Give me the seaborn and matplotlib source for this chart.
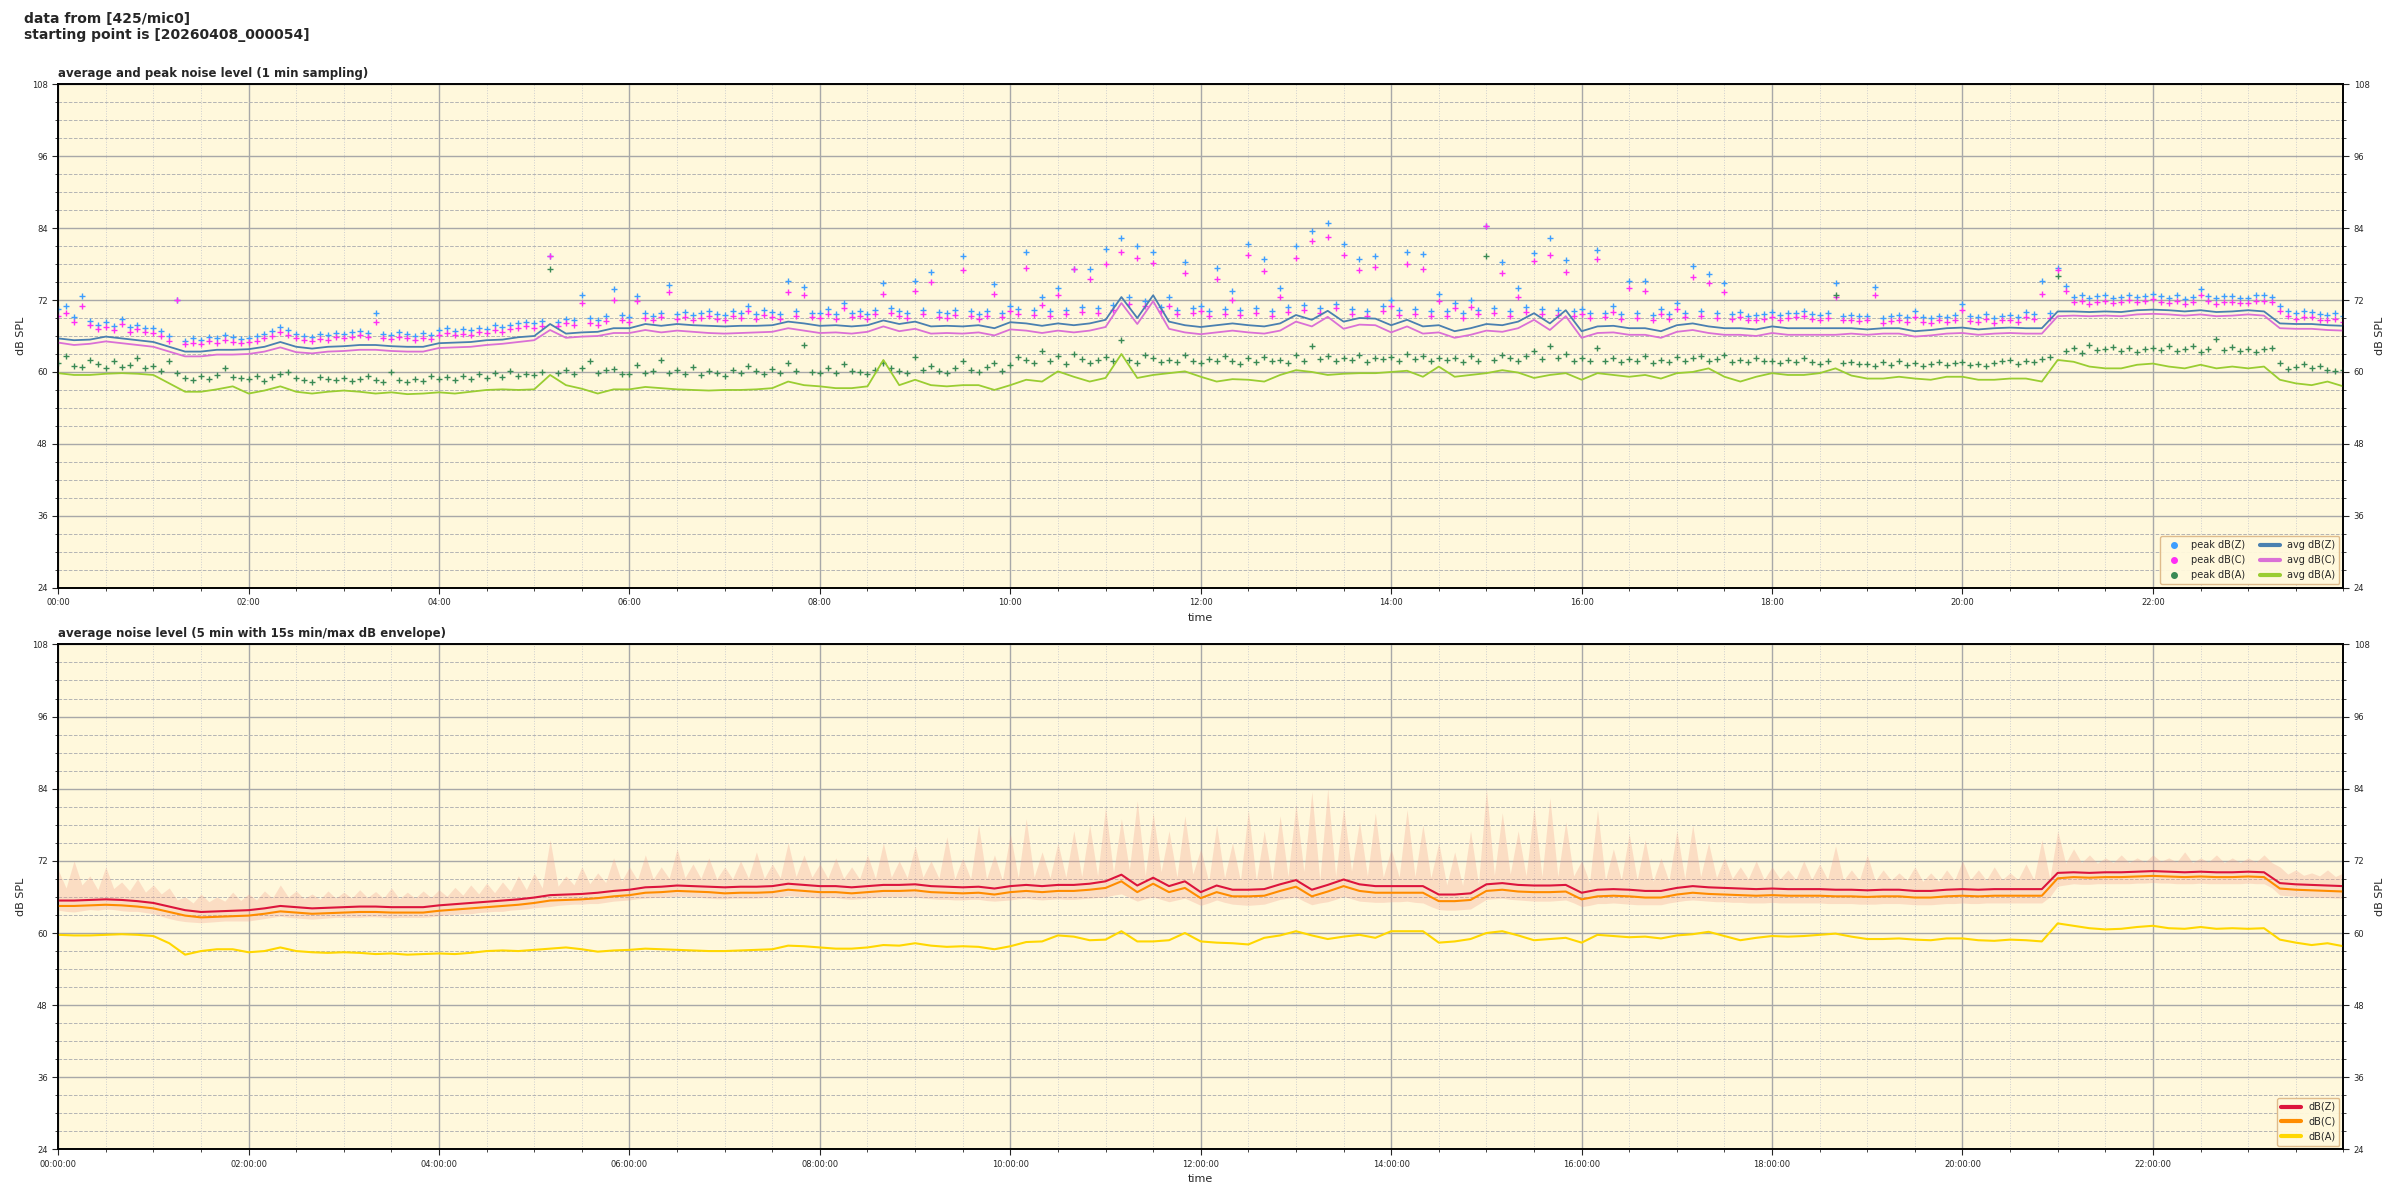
import numpy as np
import pandas as pd
import matplotlib
matplotlib.use("Agg")
import matplotlib.pyplot as plt
from matplotlib.ticker import MultipleLocator, FuncFormatter, FixedLocator
from matplotlib.lines import Line2D
import seaborn as sns

# ---------------- data ----------------
# top panel: 1-min sampled averages, transcribed every 10 min (00:00 .. 24:00)
avg_z = [
    65.6, 65.3, 65.4, 65.9, 65.6, 65.3,
    65.0, 64.2, 63.4, 63.4, 63.7, 63.7,
    63.8, 64.2, 65.0, 64.2, 63.9, 64.2,
    64.3, 64.5, 64.5, 64.3, 64.2, 64.2,
    64.8, 64.9, 65.0, 65.3, 65.4, 65.8,
    66.0, 68.0, 66.4, 66.6, 66.7, 67.3,
    67.3, 68.0, 67.7, 68.0, 67.8, 67.7,
    67.6, 67.7, 67.7, 67.8, 68.4, 68.1,
    67.7, 67.8, 67.6, 67.8, 68.6, 68.0,
    68.4, 67.6, 67.7, 67.6, 67.8, 67.3,
    68.3, 68.1, 67.7, 68.1, 67.8, 68.1,
    68.7, 72.5, 69.0, 72.8, 68.4, 67.8,
    67.5, 67.8, 68.1, 67.8, 67.6, 68.1,
    69.5, 68.7, 70.2, 68.4, 69.0, 68.9,
    67.8, 68.7, 67.6, 67.8, 66.8, 67.3,
    68.0, 67.8, 68.4, 69.8, 68.1, 70.3,
    66.8, 67.6, 67.7, 67.3, 67.3, 66.8,
    67.8, 68.1, 67.6, 67.3, 67.3, 67.1,
    67.6, 67.3, 67.3, 67.3, 67.3, 67.3,
    67.1, 67.3, 67.3, 66.8, 67.0, 67.3,
    67.4, 67.1, 67.3, 67.4, 67.3, 67.3,
    70.1, 70.1, 70.0, 70.1, 70.0, 70.3,
    70.4, 70.3, 70.1, 70.3, 70.0, 70.1,
    70.3, 70.1, 68.1, 68.0, 68.0, 67.8,
    67.7,
]
avg_c = [
    64.9, 64.5, 64.7, 65.1, 64.8, 64.5,
    64.2, 63.4, 62.6, 62.6, 62.9, 62.9,
    63.0, 63.4, 64.1, 63.3, 63.1, 63.4,
    63.5, 63.7, 63.7, 63.5, 63.4, 63.4,
    64.0, 64.1, 64.2, 64.5, 64.7, 65.0,
    65.3, 67.0, 65.7, 65.9, 66.0, 66.5,
    66.5, 67.0, 66.6, 66.9, 66.7, 66.5,
    66.4, 66.5, 66.6, 66.7, 67.3, 66.9,
    66.5, 66.6, 66.4, 66.7, 67.6, 66.8,
    67.2, 66.4, 66.5, 66.4, 66.6, 66.1,
    67.1, 66.9, 66.5, 66.9, 66.6, 66.9,
    67.5, 71.5, 68.0, 71.8, 67.2, 66.6,
    66.3, 66.6, 66.9, 66.6, 66.4, 66.9,
    68.4, 67.6, 69.2, 67.2, 67.9, 67.8,
    66.6, 67.6, 66.4, 66.6, 65.7, 66.2,
    66.9, 66.7, 67.3, 68.7, 67.0, 69.3,
    65.7, 66.5, 66.6, 66.2, 66.2, 65.7,
    66.7, 67.0, 66.5, 66.2, 66.2, 66.0,
    66.5, 66.2, 66.2, 66.2, 66.2, 66.4,
    66.2, 66.4, 66.4, 65.9, 66.1, 66.4,
    66.5, 66.2, 66.4, 66.5, 66.4, 66.4,
    69.3, 69.4, 69.3, 69.4, 69.3, 69.6,
    69.7, 69.6, 69.4, 69.6, 69.3, 69.4,
    69.6, 69.4, 67.3, 67.2, 67.2, 67.0,
    66.9,
]
avg_a = [
    59.8, 59.5, 59.5, 59.7, 59.8, 59.7,
    59.5, 58.1, 56.7, 56.7, 57.1, 57.6,
    56.4, 56.9, 57.6, 56.7, 56.4, 56.7,
    56.9, 56.7, 56.4, 56.6, 56.3, 56.4,
    56.6, 56.4, 56.7, 57.0, 57.1, 57.0,
    57.1, 59.5, 57.8, 57.2, 56.4, 57.1,
    57.1, 57.5, 57.3, 57.1, 57.0, 56.9,
    57.0, 57.0, 57.1, 57.3, 58.4, 57.8,
    57.6, 57.3, 57.3, 57.6, 62.0, 57.8,
    58.7, 57.8, 57.6, 57.8, 57.8, 57.0,
    57.8, 58.7, 58.4, 60.1, 59.2, 58.4,
    59.0, 63.0, 59.0, 59.5, 59.8, 60.1,
    59.2, 58.4, 58.8, 58.7, 58.4, 59.5,
    60.3, 60.0, 59.5, 59.7, 59.8, 59.8,
    60.0, 60.2, 59.2, 60.9, 59.2, 59.5,
    59.8, 60.3, 59.9, 59.0, 59.5, 59.8,
    58.7, 59.8, 59.5, 59.2, 59.5, 58.9,
    59.8, 60.0, 60.6, 59.2, 58.4, 59.2,
    59.8, 59.5, 59.5, 59.8, 60.6, 59.4,
    58.9, 58.9, 59.2, 58.9, 58.7, 59.2,
    59.2, 58.7, 58.7, 58.9, 58.9, 58.4,
    62.0, 61.7, 60.9, 60.6, 60.6, 61.2,
    61.4, 60.9, 60.6, 61.2, 60.6, 60.9,
    60.6, 60.9, 58.7, 58.1, 57.8, 58.4,
    57.6,
]

# top panel: peak values, transcribed every 5 min (00:00 .. 24:00)
peak_z = [
    70.5, 71.0, 69.2, 72.6, 68.5, 67.8, 68.4, 67.6, 68.9, 67.5, 67.9, 67.3,
    67.4, 66.8, 66.0, 72.0, 65.2, 65.6, 65.4, 65.9, 65.6, 66.1, 65.8, 65.5,
    65.7, 66.0, 66.4, 66.8, 67.5, 67.0, 66.4, 66.0, 65.9, 66.3, 66.1, 66.5,
    66.3, 66.6, 66.9, 66.5, 69.8, 66.4, 66.2, 66.7, 66.3, 66.0, 66.5, 66.2,
    67.0, 67.3, 66.8, 67.1, 67.0, 67.4, 67.2, 67.8, 67.5, 67.9, 68.1, 68.4,
    68.2, 68.5, 79.3, 68.3, 68.9, 68.6, 72.9, 69.0, 68.7, 69.3, 73.8, 69.5,
    69.2, 72.7, 69.8, 69.4, 69.9, 74.5, 69.6, 70.0, 69.5, 69.8, 70.2, 69.6,
    69.5, 70.1, 69.8, 71.0, 69.7, 70.3, 70.0, 69.6, 75.1, 70.2, 74.2, 69.9,
    69.8, 70.5, 69.6, 71.5, 69.9, 70.2, 69.7, 70.4, 74.8, 70.6, 70.1, 69.8,
    75.2, 70.4, 76.7, 70.0, 69.8, 70.3, 79.3, 70.1, 69.7, 70.2, 74.6, 69.9,
    71.0, 70.5, 80.0, 70.3, 72.5, 70.1, 74.0, 70.4, 77.1, 70.8, 77.1, 70.6,
    80.5, 71.2, 82.3, 72.5, 81.0, 71.8, 80.0, 70.9, 72.5, 70.4, 78.4, 70.6,
    71.0, 70.2, 77.3, 70.5, 73.5, 70.3, 81.4, 70.6, 78.9, 70.1, 74.0, 70.8,
    81.0, 71.2, 83.5, 70.6, 84.9, 71.4, 81.3, 70.5, 78.9, 70.2, 79.3, 71.0,
    72.0, 70.3, 80.0, 70.5, 79.7, 70.1, 73.0, 70.2, 71.5, 69.8, 72.0, 70.4,
    84.4, 70.6, 78.3, 70.2, 74.0, 70.8, 79.8, 70.5, 82.4, 70.3, 78.7, 70.1,
    70.5, 69.8, 80.4, 69.9, 71.0, 69.6, 75.2, 69.8, 75.2, 69.5, 70.5, 69.7,
    71.5, 69.9, 77.6, 70.2, 76.3, 69.8, 74.9, 69.6, 70.0, 69.4, 69.5, 69.7,
    70.0, 69.5, 69.8, 69.9, 70.2, 69.6, 69.5, 69.8, 74.9, 69.4, 69.5, 69.3,
    69.4, 74.1, 69.0, 69.3, 69.5, 69.1, 70.1, 69.2, 69.0, 69.4, 69.2, 69.5,
    71.3, 69.3, 69.2, 69.6, 69.0, 69.4, 69.5, 69.2, 70.0, 69.6, 75.1, 69.8,
    77.4, 74.3, 72.5, 72.8, 72.3, 72.6, 72.8, 72.4, 72.5, 72.9, 72.5, 72.7,
    73.0, 72.6, 72.4, 72.8, 72.2, 72.5, 73.9, 72.7, 72.3, 72.6, 72.6, 72.4,
    72.4, 72.8, 72.8, 72.5, 71.0, 70.2, 69.8, 70.1, 70.0, 69.6, 69.5, 69.8,
    69.3,
]
peak_c = [
    69.3, 69.8, 68.4, 71.0, 67.8, 67.1, 67.5, 67.0, 68.0, 66.7, 67.1, 66.6,
    66.5, 66.0, 65.2, 72.0, 64.6, 64.9, 64.7, 65.1, 64.9, 65.3, 65.0, 64.8,
    65.0, 65.2, 65.6, 66.0, 66.6, 66.1, 65.7, 65.3, 65.2, 65.5, 65.4, 65.8,
    65.6, 65.8, 66.1, 65.8, 68.3, 65.6, 65.5, 65.9, 65.6, 65.3, 65.7, 65.5,
    66.2, 66.5, 66.1, 66.4, 66.2, 66.6, 66.5, 67.0, 66.7, 67.1, 67.3, 67.6,
    67.4, 67.7, 79.3, 67.6, 68.1, 67.8, 71.5, 68.2, 67.9, 68.5, 72.0, 68.7,
    68.4, 71.8, 69.0, 68.6, 69.1, 73.4, 68.8, 69.2, 68.7, 69.0, 69.4, 68.8,
    68.7, 69.3, 69.0, 70.2, 68.9, 69.5, 69.2, 68.8, 73.3, 69.4, 72.8, 69.1,
    69.0, 69.7, 68.8, 70.6, 69.1, 69.4, 68.9, 69.6, 73.0, 69.8, 69.3, 69.0,
    73.5, 69.6, 75.0, 69.2, 69.0, 69.5, 77.0, 69.3, 68.9, 69.4, 73.0, 69.1,
    70.1, 69.7, 77.3, 69.5, 71.2, 69.3, 72.8, 69.6, 77.1, 70.0, 75.5, 69.8,
    78.0, 70.4, 80.0, 71.3, 79.0, 71.0, 78.2, 70.1, 71.0, 69.6, 76.5, 69.8,
    70.2, 69.4, 75.5, 69.7, 72.0, 69.5, 79.5, 69.8, 76.8, 69.3, 72.5, 70.0,
    79.0, 70.4, 81.8, 69.8, 82.5, 70.6, 79.5, 69.7, 77.0, 69.4, 77.5, 70.2,
    71.0, 69.5, 78.0, 69.7, 77.2, 69.3, 71.8, 69.4, 70.6, 69.0, 70.9, 69.6,
    84.4, 69.8, 76.5, 69.4, 72.5, 70.0, 78.5, 69.7, 79.5, 69.5, 76.6, 69.3,
    69.7, 69.0, 78.8, 69.1, 70.0, 68.8, 74.0, 69.0, 73.5, 68.7, 69.6, 68.9,
    70.5, 69.1, 75.8, 69.4, 74.8, 69.0, 73.3, 68.8, 69.2, 68.6, 68.7, 68.9,
    69.2, 68.7, 69.0, 69.1, 69.4, 68.8, 68.7, 69.0, 72.5, 68.6, 68.7, 68.5,
    68.6, 72.9, 68.2, 68.5, 68.7, 68.3, 69.2, 68.4, 68.2, 68.6, 68.4, 68.7,
    70.3, 68.5, 68.4, 68.8, 68.2, 68.6, 68.7, 68.4, 69.2, 68.8, 73.0, 69.0,
    77.0, 73.5, 71.6, 71.9, 71.4, 71.7, 71.9, 71.5, 71.6, 72.0, 71.6, 71.8,
    72.1, 71.7, 71.5, 71.9, 71.3, 71.6, 72.8, 71.8, 71.4, 71.7, 71.7, 71.5,
    71.5, 71.9, 71.9, 71.6, 70.1, 69.3, 68.9, 69.2, 69.1, 68.7, 68.6, 68.9,
    68.4,
]
peak_a = [
    61.5, 62.6, 61.0, 60.8, 62.0, 61.3, 60.6, 61.8, 60.9, 61.2, 62.3, 60.7,
    61.0, 60.2, 61.9, 59.8, 59.0, 58.6, 59.3, 58.8, 59.5, 60.6, 59.2, 59.0,
    58.8, 59.4, 58.5, 59.1, 59.6, 60.0, 59.0, 58.7, 58.4, 59.2, 58.9, 58.6,
    59.0, 58.5, 58.8, 59.3, 58.6, 58.4, 60.0, 58.7, 58.3, 58.9, 58.5, 59.4,
    58.8, 59.1, 58.6, 59.3, 58.9, 59.6, 59.0, 59.8, 59.2, 60.1, 59.4, 59.7,
    59.5, 60.0, 77.1, 59.8, 60.4, 59.6, 60.7, 61.8, 59.9, 60.3, 60.5, 59.7,
    59.6, 61.2, 59.8, 60.2, 62.0, 59.9, 60.4, 59.7, 60.8, 59.5, 60.1, 59.8,
    59.4, 60.3, 59.9, 61.0, 60.1, 59.7, 60.5, 59.8, 61.5, 60.2, 64.5, 60.0,
    59.8, 60.6, 59.9, 61.3, 60.2, 60.0, 59.7, 60.4, 61.5, 60.6, 60.1, 59.9,
    62.5, 60.4, 61.0, 60.2, 59.9, 60.6, 61.8, 60.3, 60.0, 60.8, 61.5, 60.1,
    61.2, 62.5, 62.0, 61.5, 63.5, 61.8, 62.6, 61.4, 63.0, 62.2, 61.5, 62.0,
    62.5, 61.8, 65.4, 62.0, 61.5, 62.8, 62.3, 61.7, 62.0, 61.6, 62.9, 61.8,
    61.5, 62.2, 61.8, 62.7, 61.9, 61.4, 62.3, 61.6, 62.5, 61.8, 62.0, 61.5,
    62.8, 61.9, 64.4, 62.2, 62.6, 61.8, 62.4, 62.0, 62.9, 61.7, 62.3, 62.1,
    62.5, 61.9, 63.0, 62.1, 62.6, 61.8, 62.4, 62.0, 62.3, 61.7, 62.6, 61.9,
    79.3, 62.0, 62.8, 62.3, 61.8, 62.6, 63.5, 62.1, 64.4, 62.4, 63.0, 61.9,
    62.4, 61.8, 64.0, 61.9, 62.3, 61.6, 62.2, 61.8, 62.6, 61.5, 62.0, 61.7,
    62.5, 61.9, 62.3, 62.6, 61.8, 62.1, 62.8, 61.7, 62.0, 61.6, 62.4, 61.8,
    61.9, 61.5, 62.0, 61.7, 62.3, 61.6, 61.4, 61.8, 72.8, 61.5, 61.7, 61.3,
    61.4, 61.0, 61.6, 61.2, 61.8, 61.1, 61.5, 61.0, 61.3, 61.7, 61.2, 61.5,
    61.6, 61.2, 61.4, 61.0, 61.5, 61.8, 62.0, 61.3, 61.9, 61.6, 62.2, 62.5,
    76.0, 63.5, 64.0, 63.2, 64.5, 63.6, 63.8, 64.2, 63.5, 64.0, 63.4, 63.8,
    64.0, 63.6, 64.4, 63.5, 63.9, 64.3, 63.4, 63.8, 65.5, 63.6, 64.1, 63.5,
    63.9, 63.4, 63.8, 64.0, 61.5, 60.5, 60.8, 61.3, 60.6, 61.0, 60.4, 60.2,
    60.3,
]

# bottom panel: 5-min averages, transcribed every 10 min (00:00 .. 24:00)
db_z = [
    65.4, 65.4, 65.5, 65.6, 65.5, 65.3,
    65.0, 64.4, 63.8, 63.5, 63.6, 63.7,
    63.8, 64.1, 64.5, 64.3, 64.1, 64.2,
    64.3, 64.4, 64.4, 64.3, 64.3, 64.3,
    64.6, 64.8, 65.0, 65.2, 65.4, 65.6,
    65.9, 66.3, 66.4, 66.5, 66.7, 67.0,
    67.2, 67.6, 67.7, 67.9, 67.8, 67.7,
    67.6, 67.7, 67.7, 67.8, 68.2, 68.0,
    67.8, 67.8, 67.6, 67.8, 68.0, 68.0,
    68.1, 67.8, 67.7, 67.6, 67.7, 67.4,
    67.8, 68.0, 67.8, 68.0, 68.0, 68.2,
    68.6, 69.7, 67.9, 69.2, 67.8, 68.6,
    66.8, 67.9, 67.2, 67.2, 67.3, 68.1,
    68.8, 67.2, 68.0, 68.9, 68.1, 67.8,
    67.8, 67.8, 67.8, 66.4, 66.4, 66.6,
    68.1, 68.3, 68.0, 67.9, 67.9, 68.0,
    66.7, 67.2, 67.3, 67.2, 67.0, 67.0,
    67.5, 67.8, 67.6, 67.5, 67.4, 67.3,
    67.4, 67.3, 67.3, 67.3, 67.2, 67.2,
    67.1, 67.2, 67.2, 67.0, 67.0, 67.2,
    67.3, 67.2, 67.3, 67.3, 67.3, 67.3,
    70.0, 70.1, 70.0, 70.1, 70.1, 70.2,
    70.3, 70.2, 70.1, 70.2, 70.1, 70.1,
    70.2, 70.1, 68.3, 68.1, 68.0, 67.9,
    67.8,
]
db_c = [
    64.5, 64.5, 64.6, 64.7, 64.6, 64.4,
    64.1, 63.5, 62.9, 62.6, 62.7, 62.8,
    62.9, 63.2, 63.6, 63.4, 63.2, 63.3,
    63.4, 63.5, 63.5, 63.4, 63.4, 63.4,
    63.7, 63.9, 64.1, 64.3, 64.5, 64.7,
    65.0, 65.4, 65.5, 65.6, 65.8, 66.1,
    66.3, 66.7, 66.8, 67.0, 66.9, 66.8,
    66.6, 66.7, 66.7, 66.8, 67.2, 67.0,
    66.8, 66.8, 66.6, 66.8, 67.0, 67.0,
    67.1, 66.8, 66.7, 66.6, 66.7, 66.4,
    66.8, 67.0, 66.8, 67.0, 67.0, 67.2,
    67.5, 68.6, 66.8, 68.2, 66.8, 67.5,
    65.8, 66.8, 66.1, 66.1, 66.2, 67.0,
    67.7, 66.1, 66.9, 67.8, 67.0, 66.7,
    66.7, 66.7, 66.7, 65.3, 65.3, 65.5,
    67.0, 67.2, 66.9, 66.8, 66.8, 66.9,
    65.6, 66.1, 66.2, 66.1, 65.9, 65.9,
    66.4, 66.7, 66.5, 66.4, 66.3, 66.2,
    66.3, 66.2, 66.2, 66.2, 66.1, 66.1,
    66.0, 66.1, 66.1, 65.9, 65.9, 66.1,
    66.2, 66.1, 66.2, 66.2, 66.2, 66.2,
    69.1, 69.3, 69.2, 69.3, 69.3, 69.4,
    69.5, 69.4, 69.3, 69.4, 69.3, 69.3,
    69.4, 69.3, 67.4, 67.2, 67.1, 67.0,
    66.9,
]
db_a = [
    59.7, 59.6, 59.6, 59.7, 59.8, 59.7,
    59.5, 58.3, 56.4, 57.0, 57.3, 57.3,
    56.8, 57.0, 57.6, 57.0, 56.8, 56.7,
    56.8, 56.7, 56.5, 56.6, 56.4, 56.5,
    56.6, 56.5, 56.7, 57.0, 57.1, 57.0,
    57.2, 57.4, 57.6, 57.3, 56.9, 57.1,
    57.2, 57.4, 57.3, 57.2, 57.1, 57.0,
    57.0, 57.1, 57.2, 57.3, 57.9, 57.8,
    57.6, 57.4, 57.4, 57.6, 58.0, 57.9,
    58.3, 57.9, 57.7, 57.8, 57.7, 57.3,
    57.8, 58.5, 58.6, 59.6, 59.4, 58.8,
    58.9, 60.3, 58.6, 58.6, 58.8, 60.0,
    58.6, 58.4, 58.3, 58.1, 59.2, 59.6,
    60.3, 59.6, 59.0, 59.4, 59.7, 59.2,
    60.3, 60.3, 60.3, 58.4, 58.6, 59.0,
    60.0, 60.3, 59.6, 58.8, 59.0, 59.2,
    58.4, 59.7, 59.5, 59.3, 59.4, 59.1,
    59.6, 59.8, 60.2, 59.5, 58.8, 59.2,
    59.5, 59.4, 59.5, 59.7, 59.9, 59.4,
    59.0, 59.0, 59.1, 58.9, 58.8, 59.1,
    59.1, 58.8, 58.7, 58.9, 58.8, 58.6,
    61.6, 61.2, 60.8, 60.6, 60.7, 61.0,
    61.2, 60.8, 60.7, 61.0, 60.7, 60.8,
    60.7, 60.8, 58.9, 58.4, 58.0, 58.3,
    57.8,
]
# 15 s min/max envelope, transcribed every 5 min (00:00 .. 24:00)
env_max = [
    70.5, 67.5, 72.0, 68.0, 69.5, 67.2, 71.0, 67.4, 68.5, 67.0, 69.0, 66.8,
    68.0, 66.5, 67.5, 65.5, 66.0, 65.0, 66.5, 65.2, 66.0, 65.3, 66.8, 65.4,
    66.5, 65.5, 67.0, 65.8, 68.0, 66.0, 67.0, 65.7, 66.5, 65.6, 67.0, 65.8,
    66.8, 65.8, 67.2, 65.9, 66.9, 65.8, 67.5, 65.7, 66.8, 65.8, 67.0, 65.9,
    67.2, 66.1, 67.6, 66.3, 68.0, 66.5, 68.3, 66.7, 68.5, 66.9, 69.5, 67.2,
    70.0, 67.5, 75.5, 67.8, 69.5, 68.0, 71.0, 68.2, 70.0, 68.4, 72.5, 68.6,
    71.0, 68.8, 73.0, 69.0, 71.0, 69.1, 74.0, 69.2, 71.5, 69.1, 72.5, 69.0,
    71.0, 69.0, 72.0, 69.1, 73.5, 69.1, 71.5, 69.2, 75.0, 69.4, 73.0, 69.3,
    71.5, 69.1, 72.5, 69.1, 71.0, 69.0, 73.0, 69.1, 75.0, 69.3, 72.0, 69.2,
    74.5, 69.3, 72.0, 69.1, 76.0, 69.0, 72.5, 69.0, 78.0, 69.0, 73.0, 68.8,
    76.5, 69.2, 79.0, 69.3, 73.5, 69.2, 75.0, 69.3, 77.0, 69.4, 78.0, 69.5,
    81.0, 70.0, 79.0, 70.5, 82.0, 69.5, 80.0, 70.2, 77.0, 69.3, 79.5, 69.8,
    74.0, 68.5, 78.0, 69.2, 75.0, 68.7, 80.5, 68.7, 77.0, 68.8, 79.5, 69.4,
    81.5, 70.2, 83.5, 68.8, 84.0, 69.4, 81.0, 70.3, 78.5, 69.5, 80.0, 69.3,
    74.0, 69.3, 80.5, 69.4, 78.0, 69.2, 75.0, 68.0, 73.5, 67.9, 77.0, 68.1,
    84.0, 69.6, 80.0, 69.8, 77.0, 69.5, 81.0, 69.4, 82.5, 69.4, 78.5, 69.5,
    72.0, 68.4, 80.5, 68.8, 74.0, 68.9, 76.5, 68.8, 75.5, 68.6, 72.5, 68.6,
    77.0, 69.1, 78.0, 69.4, 75.0, 69.2, 72.5, 69.1, 71.0, 69.0, 72.0, 68.9,
    71.0, 69.0, 70.5, 68.9, 72.0, 68.9, 71.5, 68.9, 74.5, 68.8, 70.5, 68.8,
    73.0, 68.7, 70.5, 68.8, 70.0, 68.8, 71.0, 68.6, 70.0, 68.6, 70.5, 68.8,
    72.0, 68.9, 70.5, 68.8, 71.0, 68.9, 70.0, 68.9, 71.5, 68.9, 75.5, 69.0,
    77.0, 71.6, 74.0, 71.7, 73.0, 71.6, 72.5, 71.7, 73.0, 71.7, 72.5, 71.8,
    73.0, 71.9, 72.5, 71.8, 73.5, 71.7, 72.5, 71.8, 73.0, 71.7, 72.5, 71.7,
    72.5, 71.8, 73.0, 71.7, 71.0, 69.8, 70.5, 69.6, 70.0, 69.5, 70.5, 69.4,
    70.0,
]
env_min = [
    63.8, 63.6, 63.5, 63.7, 63.9, 63.8, 64.0, 63.9, 63.7, 63.6, 63.6, 63.4,
    63.2, 62.8, 62.4, 62.1, 61.9, 61.8, 61.7, 61.8, 61.9, 62.0, 62.0, 62.0,
    62.0, 62.2, 62.4, 62.6, 62.8, 62.6, 62.5, 62.4, 62.3, 62.4, 62.5, 62.6,
    62.6, 62.6, 62.6, 62.7, 62.7, 62.6, 62.5, 62.6, 62.6, 62.6, 62.6, 62.7,
    62.9, 63.0, 63.1, 63.2, 63.2, 63.4, 63.5, 63.6, 63.6, 63.8, 63.9, 64.0,
    64.2, 64.3, 64.4, 64.6, 64.7, 64.8, 64.8, 64.9, 64.9, 65.1, 65.3, 65.4,
    65.5, 65.7, 65.8, 65.9, 65.9, 66.0, 66.1, 66.1, 66.0, 65.9, 65.8, 65.7,
    65.7, 65.8, 65.8, 65.8, 65.8, 65.9, 65.9, 66.0, 66.2, 66.1, 66.0, 65.9,
    65.8, 65.9, 65.9, 65.7, 65.6, 65.7, 65.8, 65.9, 66.0, 66.0, 66.0, 66.0,
    66.0, 65.8, 65.7, 65.6, 65.6, 65.5, 65.5, 65.6, 65.6, 65.4, 65.3, 65.4,
    65.5, 65.7, 65.8, 65.6, 65.5, 65.6, 65.7, 65.6, 65.6, 65.7, 65.8, 65.9,
    66.0, 66.3, 66.5, 65.9, 65.3, 65.7, 66.0, 65.6, 65.2, 65.5, 65.8, 65.2,
    64.6, 65.0, 65.5, 65.1, 64.8, 64.7, 64.6, 64.7, 64.8, 65.2, 65.6, 65.8,
    66.0, 65.3, 64.7, 65.0, 65.2, 65.6, 66.1, 65.7, 65.3, 65.2, 65.1, 65.1,
    65.2, 65.2, 65.3, 65.1, 65.0, 64.4, 63.9, 63.8, 63.8, 63.9, 64.0, 64.8,
    65.6, 65.7, 65.8, 65.6, 65.5, 65.4, 65.3, 65.3, 65.3, 65.4, 65.5, 65.0,
    64.4, 64.6, 64.9, 64.9, 65.0, 64.9, 64.8, 64.7, 64.7, 64.7, 64.7, 65.0,
    65.2, 65.4, 65.5, 65.4, 65.3, 65.2, 65.2, 65.1, 65.1, 65.0, 65.0, 65.0,
    65.1, 65.0, 65.0, 65.0, 65.0, 65.0, 65.0, 64.9, 64.9, 64.9, 64.9, 64.8,
    64.8, 64.8, 64.9, 64.9, 64.9, 64.8, 64.7, 64.7, 64.7, 64.8, 64.9, 64.9,
    65.0, 64.9, 64.9, 65.0, 65.0, 65.0, 65.0, 65.0, 65.0, 65.0, 65.0, 66.0,
    67.8, 68.0, 68.2, 68.1, 68.1, 68.2, 68.2, 68.2, 68.2, 68.2, 68.3, 68.3,
    68.4, 68.3, 68.3, 68.2, 68.2, 68.2, 68.3, 68.2, 68.2, 68.2, 68.2, 68.2,
    68.3, 68.2, 68.2, 67.5, 66.3, 66.2, 66.1, 66.0, 66.0, 65.9, 65.9, 65.8,
    65.8,
]

y_ticks = [24, 36, 48, 60, 72, 84, 96, 108]
x_tick_hours = [0, 2, 4, 6, 8, 10, 12, 14, 16, 18, 20, 22]

# ---------------- frames ----------------
hours10 = np.arange(len(avg_z)) / 6.0
hours5 = np.arange(len(peak_z)) / 12.0
top_lines = pd.DataFrame({"hour": hours10, "avg dB(Z)": avg_z,
                          "avg dB(C)": avg_c, "avg dB(A)": avg_a})
top_peaks = pd.DataFrame({"hour": hours5, "peak dB(Z)": peak_z,
                          "peak dB(C)": peak_c, "peak dB(A)": peak_a})
bottom = pd.DataFrame({"hour": hours10, "dB(Z)": db_z, "dB(C)": db_c,
                       "dB(A)": db_a})
envelope = pd.DataFrame({"hour": np.arange(len(env_max)) / 12.0,
                         "min": env_min, "max": env_max})

# ---------------- style ----------------
sns.set_style("ticks")
plt.rcParams["font.family"] = ["DejaVu Sans"]

BG = "#fff8dc"


def fmt_hm(x, pos):
    m = int(round(x * 60))
    return f"{m // 60:02d}:{m % 60:02d}"


def fmt_hms(x, pos):
    m = int(round(x * 60))
    return f"{m // 60:02d}:{m % 60:02d}:00"


def style_axes(ax, fmt):
    ax.set_facecolor(BG)
    ax.set_xlim(0, 24)
    ax.set_ylim(24, 108)
    ax.xaxis.set_major_locator(FixedLocator(x_tick_hours))
    ax.xaxis.set_minor_locator(MultipleLocator(0.5))
    ax.yaxis.set_major_locator(FixedLocator(y_ticks))
    ax.yaxis.set_minor_locator(MultipleLocator(3))
    ax.xaxis.set_major_formatter(FuncFormatter(fmt))
    ax.grid(which="major", color="#a8a8a8", lw=1.0, ls="-")
    ax.grid(which="minor", axis="y", color="#b4b4b4", lw=0.7, ls="--")
    ax.grid(which="minor", axis="x", color="#cfcfcf", lw=0.7, ls=":")
    ax.set_axisbelow(True)
    ax.tick_params(which="major", labelsize=6, length=4, width=0.8)
    ax.tick_params(which="minor", length=2.5, width=0.6)
    for s in ax.spines.values():
        s.set_linewidth(1.2)
        s.set_color("black")
    ax.set_ylabel("dB SPL", fontsize=8)
    ax.set_xlabel("time", fontsize=8)
    tw = ax.twinx()
    tw.set_ylim(24, 108)
    tw.yaxis.set_major_locator(FixedLocator(y_ticks))
    tw.yaxis.set_minor_locator(MultipleLocator(3))
    tw.tick_params(which="major", labelsize=6, length=4, width=0.8)
    tw.tick_params(which="minor", length=2.5, width=0.6)
    tw.set_ylabel("dB SPL", fontsize=8)
    tw.grid(False)
    for s in tw.spines.values():
        s.set_linewidth(1.2)
        s.set_color("black")
    return tw


fig = plt.figure(figsize=(24, 12), dpi=100)
ax1 = fig.add_axes([0.02423, 0.5102, 0.95217, 0.4196])
ax2 = fig.add_axes([0.02423, 0.0421, 0.95217, 0.4209])

fig.text(0.0102, 0.990, "data from [425/mic0]\nstarting point is [20260408_000054]",
         ha="left", va="top", fontsize=10, fontweight="bold")

# ---------------- top panel ----------------
peak_colors = {"peak dB(Z)": "#3d9eff", "peak dB(C)": "#ff2ef5", "peak dB(A)": "#3a8a55"}
avg_colors = {"avg dB(Z)": "#4a80b0", "avg dB(C)": "#da70d6", "avg dB(A)": "#9acd32"}

for col, c in peak_colors.items():
    sns.scatterplot(data=top_peaks, x="hour", y=col, ax=ax1, marker="+",
                    color=c, s=18, linewidth=1.0, legend=False, zorder=3)
for col, c in avg_colors.items():
    sns.lineplot(data=top_lines, x="hour", y=col, ax=ax1, color=c,
                 lw=1.3, legend=False, zorder=4)

style_axes(ax1, fmt_hm)
ax1.set_title("average and peak noise level (1 min sampling)", loc="left",
              fontsize=8.5, fontweight="bold", pad=5)

handles = [Line2D([], [], ls="", marker="o", ms=4, color=c, label=k)
           for k, c in peak_colors.items()]
handles += [Line2D([], [], lw=3, color=c, label=k) for k, c in avg_colors.items()]
ax1.legend(handles=handles, ncol=2, loc="lower right", fontsize=7,
           facecolor=BG, edgecolor="#deb887", framealpha=0.95,
           borderaxespad=0.4, columnspacing=1.5, handletextpad=0.8)

# ---------------- bottom panel ----------------
ax2.fill_between(envelope["hour"], envelope["min"], envelope["max"],
                 color="#f4a08c", alpha=0.30, lw=0, zorder=2)
bottom_colors = {"dB(Z)": "#dc143c", "dB(C)": "#ff8c00", "dB(A)": "#ffd700"}
for col, c in bottom_colors.items():
    sns.lineplot(data=bottom, x="hour", y=col, ax=ax2, color=c, lw=1.5,
                 legend=False, zorder=4)

style_axes(ax2, fmt_hms)
ax2.set_title("average noise level (5 min with 15s min/max dB envelope)",
              loc="left", fontsize=8.5, fontweight="bold", pad=5)
handles2 = [Line2D([], [], lw=3, color=c, label=k) for k, c in bottom_colors.items()]
ax2.legend(handles=handles2, loc="lower right", fontsize=7, facecolor=BG,
           edgecolor="#deb887", framealpha=0.95, borderaxespad=0.4)

fig.savefig("out.png", dpi=100)
